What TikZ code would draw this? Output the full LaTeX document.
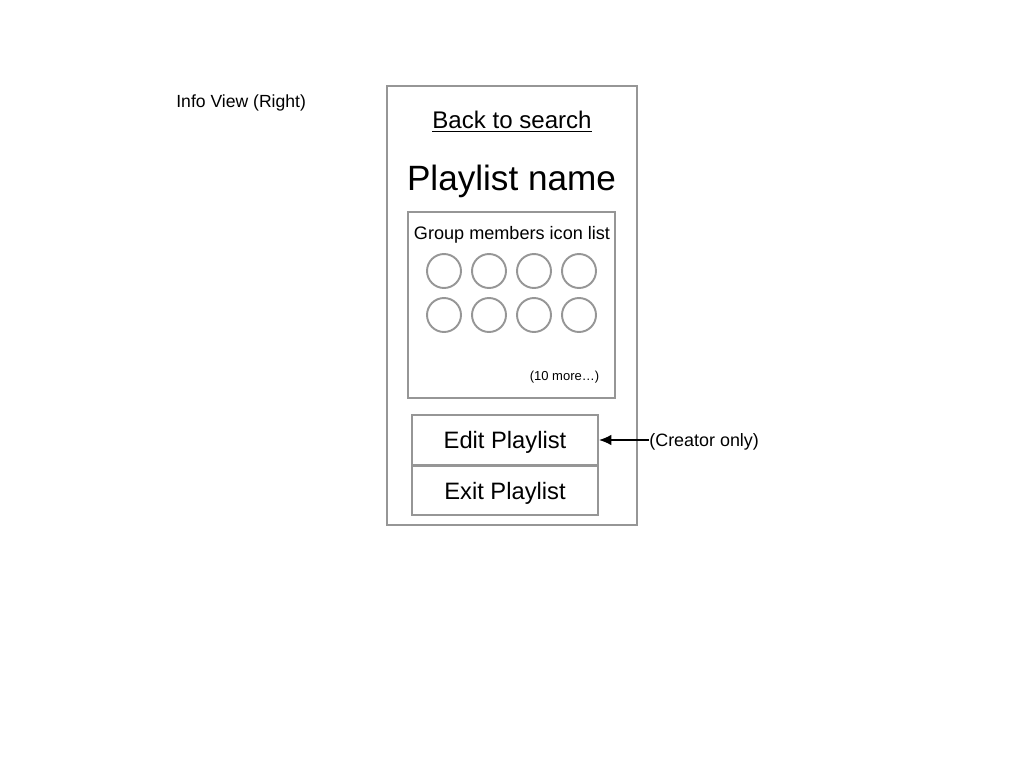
\documentclass[tikz,border=0pt]{standalone}
\usepackage{fontspec}
\setmainfont{Liberation Sans}
\usetikzlibrary{arrows.meta}
\definecolor{framegray}{RGB}{150,150,150}
\begin{document}
\begin{tikzpicture}[x=0.02cm, y=0.02cm]
        \tikzstyle{every node}+=[inner sep=0pt]
        \tikzstyle{box}=[draw=framegray, line width=1.1pt, rectangle]
        \tikzstyle{face}=[draw=framegray, line width=1.1pt, circle, minimum size=0.68cm]
        \tikzstyle{button}=[box, minimum width=3.72cm, text depth=0pt, font=\fontsize{13.5}{16}\selectfont]
        \useasboundingbox (0,0) rectangle (1024,-768);
        \node [anchor=west, font=\fontsize{10}{12}\selectfont] (title) at (176,-103) {Info View (Right)};
        \node [box, minimum width=5cm, minimum height=8.78cm] (phone) at (512,-305.5) {};
        \node [font=\fontsize{13.7}{16}\selectfont] (back) at (512,-122) {\underline{Back to search}};
        \node [font=\fontsize{20}{24}\selectfont] (name) at (511.5,-181) {Playlist name};
        \node [box, minimum width=4.14cm, minimum height=3.72cm] (group) at (511.5,-305) {};
        \node [font=\fontsize{10.3}{12}\selectfont] (grouptext) at (512,-235) {Group members icon list};
        \node [face] (m1) at (444,-271) {};
        \node [face] (m2) at (489,-271) {};
        \node [face] (m3) at (534,-271) {};
        \node [face] (m4) at (579,-271) {};
        \node [face] (m5) at (444,-315) {};
        \node [face] (m6) at (489,-315) {};
        \node [face] (m7) at (534,-315) {};
        \node [face] (m8) at (579,-315) {};
        \node [font=\fontsize{7.4}{9}\selectfont] (more) at (564.5,-377) {(10 more\ldots)};
        \node [button, minimum height=1cm] (edit) at (505,-440) {Edit Playlist};
        \node [button, minimum height=0.98cm] (exit) at (505,-490.5) {Exit Playlist};
        \node [anchor=west, font=\fontsize{10.2}{12}\selectfont] (creator) at (649,-442) {(Creator only)};
        \draw [black, line width=0.9pt, -{Latex[length=7pt,width=6pt]}] (creator.west |- edit.east) -- (edit.east);
\end{tikzpicture}
\end{document}
